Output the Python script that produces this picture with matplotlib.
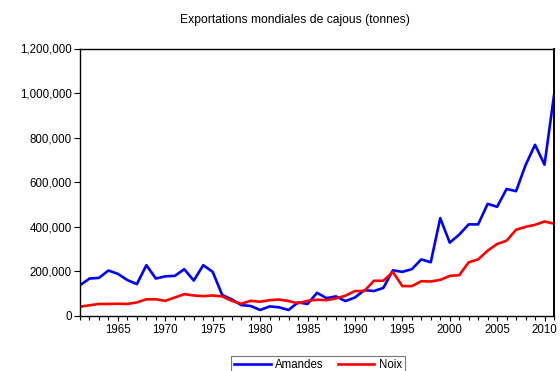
import matplotlib
matplotlib.use("Agg")
import matplotlib.pyplot as plt
from matplotlib.ticker import FuncFormatter, MultipleLocator

plt.rcParams['font.family'] = ['Liberation Sans', 'DejaVu Sans']

years = list(range(1961, 2012))

amandes = [138000, 168000, 171000, 204000, 189000, 161000, 143000, 228000, 168000, 178000,
           180000, 210000, 159000, 228000, 198000, 94000, 75000, 49000, 45000, 27000,
           43000, 39000, 27000, 61000, 54000, 104000, 80000, 88000, 67000, 83000,
           116000, 112000, 126000, 205000, 198000, 210000, 254000, 241000, 439000, 329000,
           365000, 411000, 411000, 503000, 490000, 570000, 560000, 677000, 768000, 679000,
           990000]

noix = [42000, 48000, 54000, 54000, 55000, 54000, 61000, 75000, 75000, 68000,
        83000, 98000, 92000, 89000, 92000, 88000, 68000, 55000, 68000, 64000,
        71000, 74000, 67000, 57000, 68000, 73000, 71000, 79000, 91000, 112000,
        112000, 158000, 158000, 198000, 134000, 134000, 156000, 155000, 162000, 180000,
        183000, 241000, 254000, 293000, 323000, 338000, 387000, 400000, 409000, 424000,
        414000]

fig = plt.figure(figsize=(5.6, 3.71), dpi=100)
ax = fig.add_axes([80/560, 1 - 316/371, (554-80)/560, (316-48.5)/371])

ax.plot(years, amandes, color='#0000ff', lw=1.9, label='Amandes')
ax.plot(years, noix, color='#ff0000', lw=1.9, label='Noix')

ax.set_xlim(1961, 2011)
ax.set_ylim(0, 1200000)
ax.xaxis.set_major_locator(MultipleLocator(5))
ax.xaxis.set_minor_locator(MultipleLocator(1))
ax.yaxis.set_major_locator(MultipleLocator(200000))
ax.yaxis.set_major_formatter(FuncFormatter(lambda v, p: f"{int(v):,}"))

ax.tick_params(axis='both', which='both', direction='out', labelsize=8.3,
               width=0.8, colors='black', pad=2)
ax.tick_params(axis='x', which='major', length=3.5)
ax.tick_params(axis='x', which='minor', length=3)
ax.tick_params(axis='y', which='major', length=4)
for s in ax.spines.values():
    s.set_linewidth(1.0)
ax.spines['right'].set_linewidth(1.4)

fig.text(295/560, 1 - 20/371, 'Exportations mondiales de cajous (tonnes)',
         ha='center', va='center', fontsize=8.7)

leg = fig.legend(loc='upper center', bbox_to_anchor=(318/560, 1 - 356/371), ncol=2,
                 fontsize=8.3, frameon=True, fancybox=False, borderpad=0.25,
                 handlelength=3.2, columnspacing=1.2, handletextpad=0.4,
                 borderaxespad=0)
leg.get_frame().set_edgecolor('#555555')
leg.get_frame().set_linewidth(0.8)

fig.savefig('out.png', dpi=100)
